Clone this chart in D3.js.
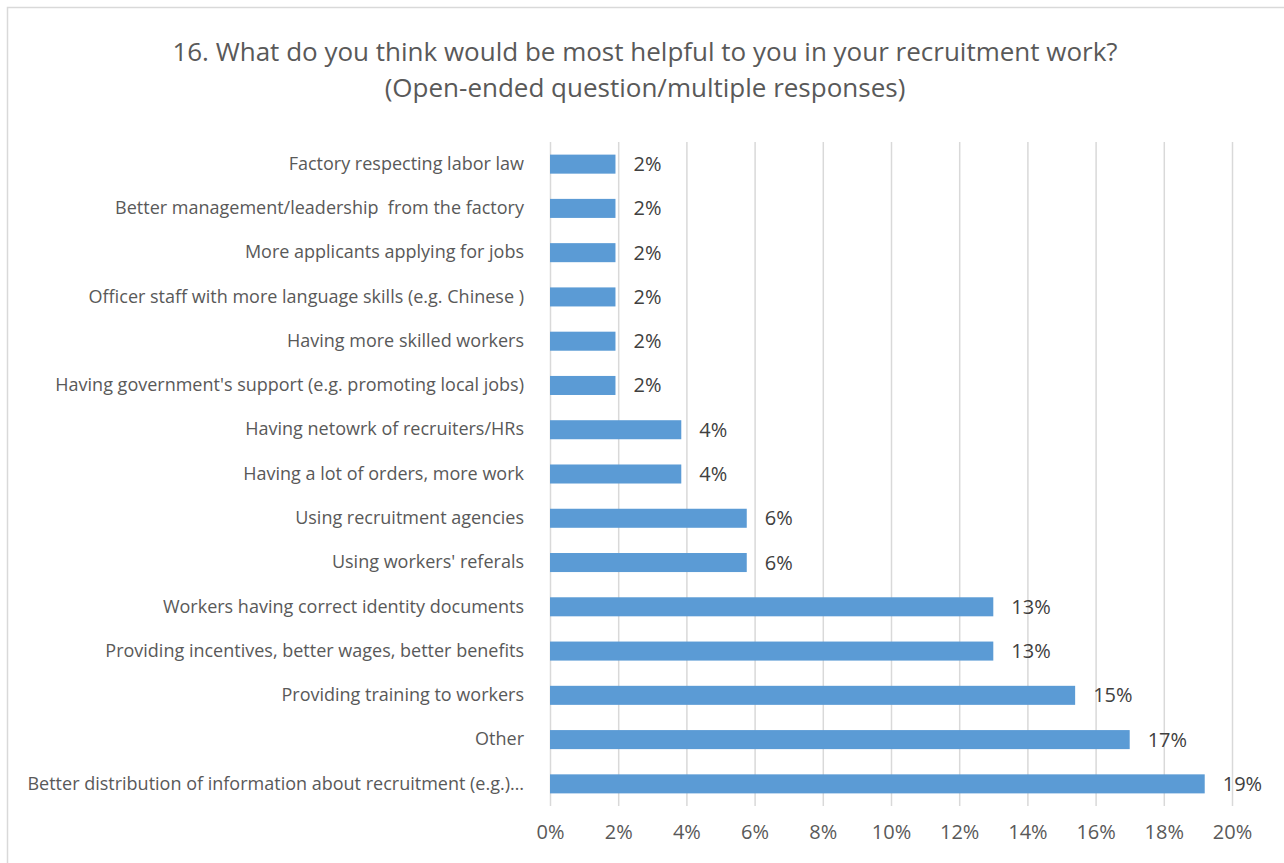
<!DOCTYPE html>
<html>
<head>
<meta charset="utf-8">
<script src="https://cdn.jsdelivr.net/npm/d3@7"></script>
<style>
  html, body { margin: 0; padding: 0; background: #fff; }
  svg { display: block; }
  text { font-family: "Open Sans", "Lato", sans-serif; }
</style>
</head>
<body>
<svg id="chart" width="1284" height="863"></svg>
<script>
// Responses, listed top to bottom
const categories = [
  "Factory respecting labor law",
  "Better management/leadership  from the factory",
  "More applicants applying for jobs",
  "Officer staff with more language skills (e.g. Chinese )",
  "Having more skilled workers",
  "Having government's support (e.g. promoting local jobs)",
  "Having netowrk of recruiters/HRs",
  "Having a lot of orders, more work",
  "Using recruitment agencies",
  "Using workers' referals",
  "Workers having correct identity documents",
  "Providing incentives, better wages, better benefits",
  "Providing training to workers",
  "Other",
  "Better distribution of information about recruitment (e.g.)…"
];
// Share of responses
const shares = [0.0192, 0.0192, 0.0192, 0.0192, 0.0192, 0.0192,
                0.0385, 0.0385, 0.0577, 0.0577,
                0.130, 0.130, 0.154, 0.170, 0.192];
const xTicks = [0, 0.02, 0.04, 0.06, 0.08, 0.10, 0.12, 0.14, 0.16, 0.18, 0.20];
const titleLines = [
  "16. What do you think would be most helpful to you in your recruitment work?",
  "(Open-ended question/multiple responses)"
];

const data = categories.map((c, i) => ({ category: c, value: shares[i] }));

const svg = d3.select("#chart");
const margin = { left: 550, right: 52, top: 142, bottom: 57 };
const W = +svg.attr("width"), H = +svg.attr("height");

// chart frame
svg.append("rect")
  .attr("x", 7.5).attr("y", 7.5)
  .attr("width", W + 10).attr("height", H + 10)
  .attr("fill", "#fff").attr("stroke", "#d9d9d9").attr("stroke-width", 1.5);

const x = d3.scaleLinear().domain([0, 0.20]).range([margin.left, W - margin.right]);
const y = d3.scaleBand().domain(categories)
  .range([margin.top, H - margin.bottom]).paddingInner(0.57).paddingOuter(0.285);

// title
svg.append("g").selectAll("text").data(titleLines).join("text")
  .attr("x", 645).attr("y", (d, i) => 61 + i * 36)
  .attr("text-anchor", "middle")
  .attr("fill", "#595959").attr("font-size", 26)
  .text(d => d);

// vertical gridlines and bottom axis labels
const xAxis = d3.axisBottom(x).tickValues(xTicks)
  .tickFormat(d3.format(".0%"))
  .tickSize(-(H - margin.bottom - margin.top)).tickPadding(19);
const gx = svg.append("g")
  .attr("transform", `translate(0,${H - margin.bottom})`)
  .call(xAxis);
gx.select(".domain").remove();
gx.selectAll(".tick line").attr("stroke", "#d9d9d9").attr("stroke-width", 1.5);
gx.selectAll(".tick text")
  .attr("fill", "#595959").attr("font-size", 20)
  .style("font-family", "'Open Sans', Lato, sans-serif");

// bars
svg.append("g").selectAll("rect").data(data).join("rect")
  .attr("x", x(0))
  .attr("y", d => y(d.category))
  .attr("width", d => x(d.value) - x(0))
  .attr("height", y.bandwidth())
  .attr("fill", "#5b9bd5");

// value labels
svg.append("g").selectAll("text").data(data).join("text")
  .attr("x", d => x(d.value) + 18)
  .attr("y", d => y(d.category) + y.bandwidth() / 2)
  .attr("dy", "0.35em")
  .attr("fill", "#404040").attr("font-size", 20)
  .text(d => d3.format(".0%")(d.value));

// category labels
const yAxis = d3.axisLeft(y).tickSize(0).tickPadding(26);
const gy = svg.append("g").attr("transform", `translate(${margin.left},0)`).call(yAxis);
gy.select(".domain").remove();
gy.selectAll(".tick text")
  .attr("fill", "#595959").attr("font-size", 18)
  .style("font-family", "'Open Sans', Lato, sans-serif")
  .style("white-space", "pre");
</script>
</body>
</html>
